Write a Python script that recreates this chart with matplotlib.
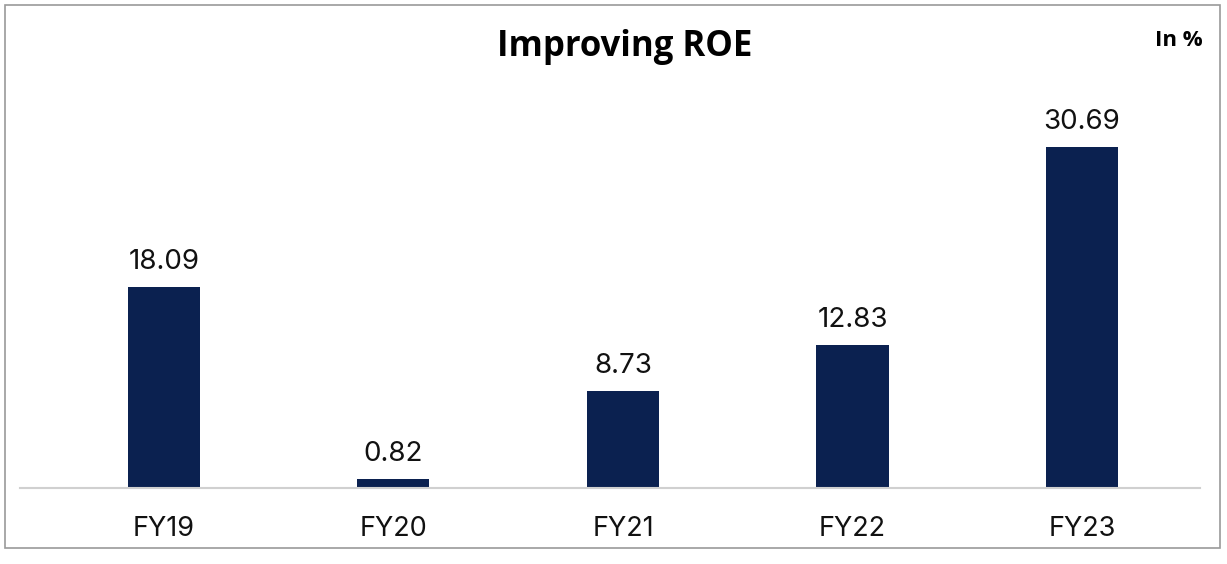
import matplotlib.pyplot as plt
from matplotlib.patches import Rectangle

# Data
tahun = ['FY19', 'FY20', 'FY21', 'FY22', 'FY23']
roe = [18.09, 0.82, 8.73, 12.83, 30.69]

warna_bar = '#0b2150'

fig = plt.figure(figsize=(12.27, 5.64), dpi=100)
ax = fig.add_axes([20 / 1227, 76 / 564, 1180 / 1227, 390 / 564])

x = list(range(len(tahun)))
ax.bar(x, roe, width=0.314, color=warna_bar)

for xi, v in zip(x, roe):
    ax.text(xi, v + 1.1, f'{v:.2f}', ha='center', va='bottom',
            fontsize=20, family='Inter', color='#111111')

ax.set_xlim(-0.627, 4.514)
ax.set_ylim(0, 35.1)
ax.set_xticks(x)
ax.set_xticklabels(tahun, fontsize=19.5, family='Inter', color='#111111')
ax.tick_params(axis='x', length=0, pad=20)
ax.set_yticks([])

for s in ['top', 'right', 'left']:
    ax.spines[s].set_visible(False)
ax.spines['bottom'].set_color('#d0d0d0')
ax.spines['bottom'].set_linewidth(1.5)

# Judul dan satuan
fig.text(625 / 1227, 1 - 47 / 564, 'Improving ROE', ha='center', va='center',
         fontsize=25, fontweight='bold', family='Open Sans')
fig.text(1179 / 1227, 1 - 41 / 564, 'In %', ha='center', va='center',
         fontsize=16, fontweight='bold', family='Open Sans')

# Bingkai
fig.patches.append(Rectangle((5 / 1227, 16 / 564), 1215 / 1227, 543 / 564,
                             transform=fig.transFigure, fill=False,
                             edgecolor='#9a9a9a', linewidth=1.2))

fig.savefig('out.png', dpi=100)
